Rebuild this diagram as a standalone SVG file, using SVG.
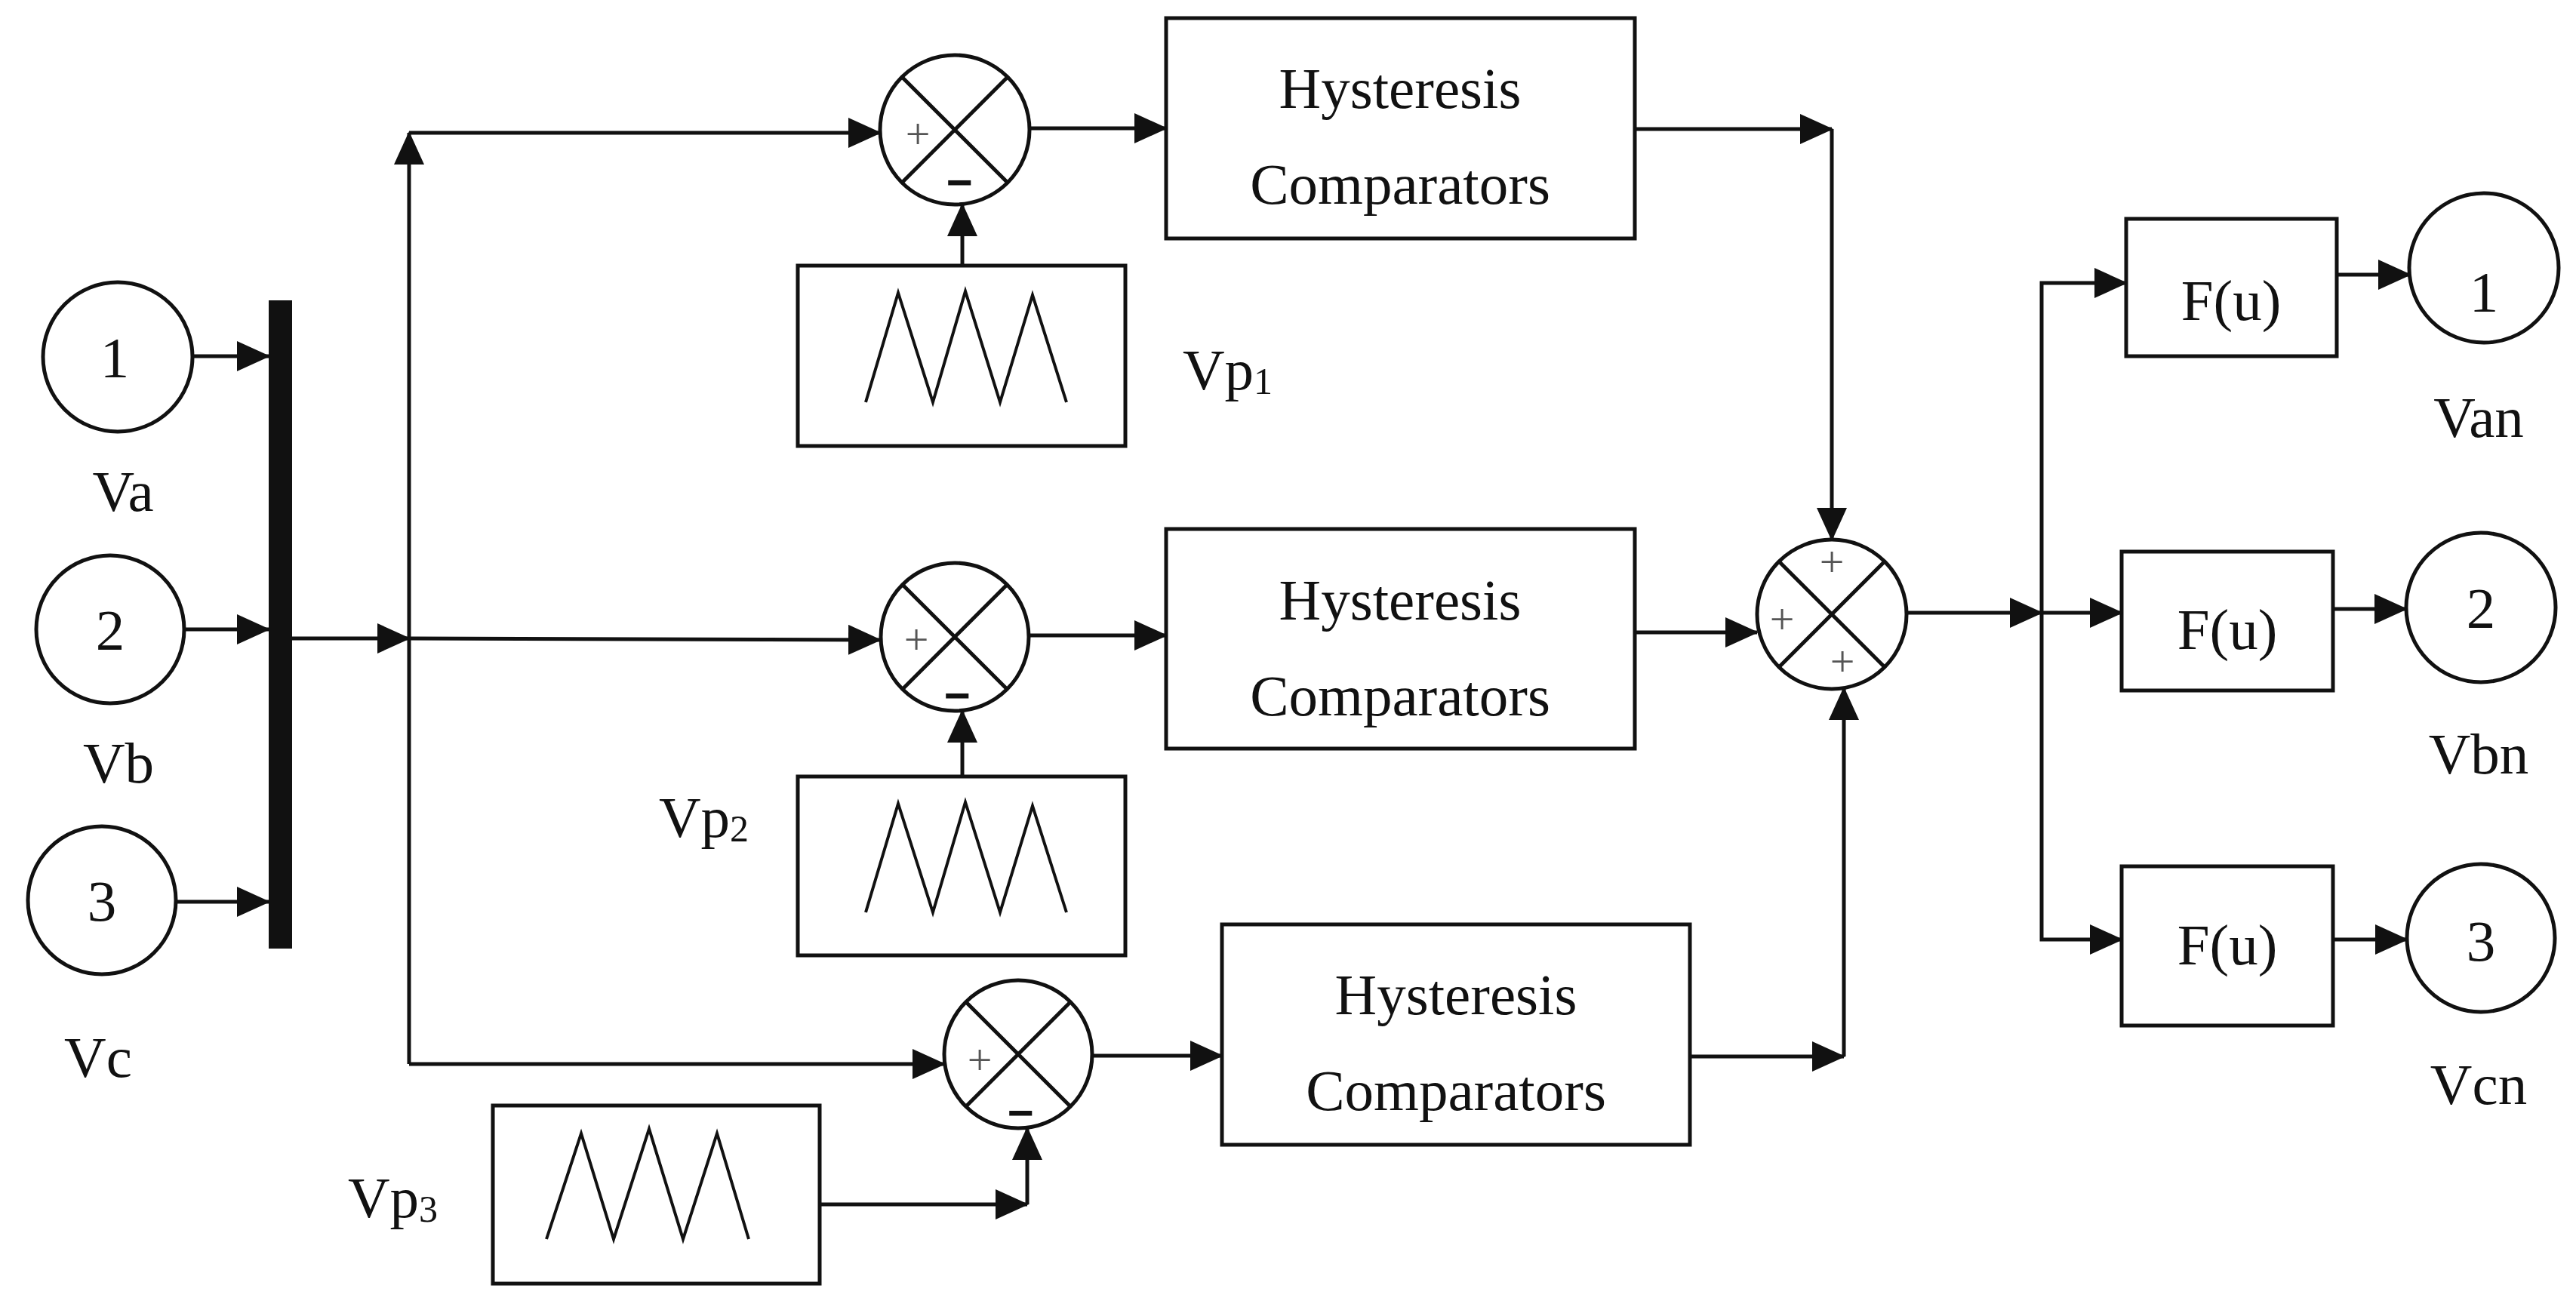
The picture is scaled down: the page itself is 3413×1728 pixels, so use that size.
<svg xmlns="http://www.w3.org/2000/svg" width="3413" height="1728" viewBox="0 0 3413 1728">
<style>
.b{fill:#fff;stroke:#111;stroke-width:5}
.l{fill:none;stroke:#111;stroke-width:5}
.w{fill:none;stroke:#111;stroke-width:4}
.t{font-family:"Liberation Serif",serif;font-size:77px;fill:#111;text-anchor:middle}
.s{font-family:"Liberation Serif",serif;font-size:58px;fill:#555;text-anchor:middle}
.m{font-family:"Liberation Sans",sans-serif;font-size:60px;font-weight:bold;fill:#111;text-anchor:middle}
.c{fill:none;stroke:#111;stroke-width:5}
</style>
<defs>
<marker id="a" markerUnits="userSpaceOnUse" markerWidth="44" markerHeight="40" refX="42" refY="20" orient="auto"><path d="M0,0 L44,20 L0,40 z" fill="#111"/></marker>
</defs>
<g id="in1"><circle cx="156" cy="473" r="99" class="b"/><text x="152" y="500" class="t">1</text><text x="163" y="677" class="t">Va</text></g>
<g id="in2"><circle cx="146" cy="834" r="98" class="b"/><text x="146" y="861" class="t">2</text><text x="157" y="1037" class="t">Vb</text></g>
<g id="in3"><circle cx="135" cy="1193" r="98" class="b"/><text x="135" y="1220" class="t">3</text><text x="130" y="1427" class="t">Vc</text></g>
<g id="bus"><rect x="356" y="398" width="31" height="859" fill="#111"/></g>
<g id="sum1"><circle cx="1265" cy="172" r="99" class="b"/><path d="M1195,102 L1335,242 M1335,102 L1195,242" class="l"/><text x="1216" y="197" class="s">+</text><text x="1271" y="262" class="m">−</text></g>
<g id="sum2"><circle cx="1265" cy="844" r="98" class="b"/><path d="M1196,775 L1334,913 M1334,775 L1196,913" class="l"/><text x="1214" y="867" class="s">+</text><text x="1268" y="942" class="m">−</text></g>
<g id="sum3"><circle cx="1349" cy="1397" r="98" class="b"/><path d="M1280,1328 L1418,1466 M1418,1328 L1280,1466" class="l"/><text x="1298" y="1424" class="s">+</text><text x="1352" y="1495" class="m">−</text></g>
<g id="sum4"><circle cx="2427" cy="814" r="99" class="b"/><path d="M2357,744 L2497,884 M2497,744 L2357,884" class="l"/><text x="2427" y="764" class="s">+</text><text x="2361" y="840" class="s">+</text><text x="2441" y="896" class="s">+</text></g>
<g id="tri1"><rect x="1057" y="352" width="434" height="239" class="b"/><path d="M1147,533 L1190,388 L1236,533 L1279,386 L1325,533 L1368,391 L1413,533" class="w"/><text x="1567" y="516" class="t" text-anchor="start" style="text-anchor:start">Vp<tspan font-size="50" dy="6">1</tspan></text></g>
<g id="tri2"><rect x="1057" y="1029" width="434" height="237" class="b"/><path d="M1147,1209 L1190,1065 L1236,1209 L1279,1063 L1325,1209 L1368,1068 L1413,1209" class="w"/><text x="873" y="1109" class="t" style="text-anchor:start">Vp<tspan font-size="50" dy="6">2</tspan></text></g>
<g id="tri3"><rect x="653" y="1465" width="433" height="236" class="b"/><path d="M724,1642 L770,1502 L813,1642 L860,1496 L905,1642 L950,1502 L992,1642" class="w"/><text x="461" y="1613" class="t" style="text-anchor:start">Vp<tspan font-size="50" dy="6">3</tspan></text></g>
<g id="hys1"><rect x="1545" y="24" width="621" height="292" class="b"/><text x="1855" y="143" class="t">Hysteresis</text><text x="1855" y="270" class="t">Comparators</text></g>
<g id="hys2"><rect x="1545" y="701" width="621" height="291" class="b"/><text x="1855" y="821" class="t">Hysteresis</text><text x="1855" y="948" class="t">Comparators</text></g>
<g id="hys3"><rect x="1619" y="1225" width="620" height="292" class="b"/><text x="1929" y="1344" class="t">Hysteresis</text><text x="1929" y="1471" class="t">Comparators</text></g>
<g id="f1"><rect x="2817" y="290" width="279" height="182" class="b"/><text x="2956" y="424" class="t">F(u)</text></g>
<g id="f2"><rect x="2811" y="731" width="280" height="184" class="b"/><text x="2951" y="860" class="t">F(u)</text></g>
<g id="f3"><rect x="2811" y="1148" width="280" height="211" class="b"/><text x="2951" y="1278" class="t">F(u)</text></g>
<g id="out1"><circle cx="3291" cy="355" r="99" class="b"/><text x="3291" y="413" class="t">1</text><text x="3284" y="579" class="t">Van</text></g>
<g id="out2"><circle cx="3287" cy="805" r="99" class="b"/><text x="3287" y="832" class="t">2</text><text x="3284" y="1025" class="t">Vbn</text></g>
<g id="out3"><circle cx="3287" cy="1243" r="98" class="b"/><text x="3287" y="1273" class="t">3</text><text x="3284" y="1463" class="t">Vcn</text></g>
<g id="connectors" class="l">
<path d="M257,472 H356" marker-end="url(#a)"/>
<path d="M244,834 H356" marker-end="url(#a)"/>
<path d="M235,1195 H356" marker-end="url(#a)"/>
<path d="M387,846 H542" marker-end="url(#a)"/>
<path d="M542,846 L1166,848" marker-end="url(#a)"/>
<path d="M542,1410 V176" marker-end="url(#a)"/>
<path d="M542,176 H1166" marker-end="url(#a)"/>
<path d="M542,1410 H1251" marker-end="url(#a)"/>
<path d="M1364,170 H1545" marker-end="url(#a)"/>
<path d="M1364,842 H1545" marker-end="url(#a)"/>
<path d="M1447,1399 H1619" marker-end="url(#a)"/>
<path d="M1275,352 V271" marker-end="url(#a)"/>
<path d="M1275,1029 V942" marker-end="url(#a)"/>
<path d="M1086,1596 H1361" marker-end="url(#a)"/>
<path d="M1361,1596 V1495" marker-end="url(#a)"/>
<path d="M2166,171 H2427" marker-end="url(#a)"/>
<path d="M2427,171 V715" marker-end="url(#a)"/>
<path d="M2166,838 H2328" marker-end="url(#a)"/>
<path d="M2239,1400 H2443" marker-end="url(#a)"/>
<path d="M2443,1400 V912" marker-end="url(#a)"/>
<path d="M2527,812 H2705" marker-end="url(#a)"/>
<path d="M2705,812 V375 H2817" marker-end="url(#a)"/>
<path d="M2705,812 H2811" marker-end="url(#a)"/>
<path d="M2705,812 V1245 H2811" marker-end="url(#a)"/>
<path d="M3096,364 H3193" marker-end="url(#a)"/>
<path d="M3091,807 H3188" marker-end="url(#a)"/>
<path d="M3091,1245 H3189" marker-end="url(#a)"/>
</g>
</svg>
